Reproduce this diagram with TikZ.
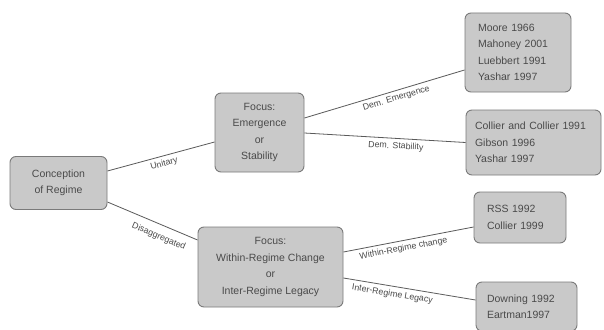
\documentclass[tikz,border=0pt]{standalone}
\usepackage{fontspec}
\setmainfont{Liberation Sans}
\definecolor{boxfill}{HTML}{C9C9C9}
\definecolor{boxline}{HTML}{7A7A7A}
\definecolor{inktext}{HTML}{4A4A4A}
\definecolor{linkline}{HTML}{5A5A5A}
\begin{document}
\begin{tikzpicture}[x=1pt,y=-1pt,
  box/.style={draw=boxline, fill=boxfill, line width=0.9pt, rounded corners=6pt,
    text=inktext, font=\fontsize{10.5}{16.5}\selectfont, inner ysep=0pt},
  focusbox/.style={box, align=center, inner xsep=0pt},
  refbox/.style={box, align=left},
  link/.style={draw=linkline, line width=0.8pt},
  lbl/.style={sloped, below=2.5pt, text=inktext, inner sep=1pt,
    font=\fontsize{8.8}{10}\selectfont}]
\fill[white] (0,0) rectangle (604,329);
\clip (0,0) rectangle (604,329);

% left-hand root
\node[focusbox, minimum width=97pt, minimum height=53pt] (conc) at (58.5,183)
  {Conception\\of Regime};

% the two focus boxes
\node[focusbox, minimum width=89pt, minimum height=79pt] (emer) at (259.5,132.5)
  {Focus:\\Emergence\\or\\Stability};
\node[focusbox, minimum width=145pt, minimum height=80pt] (within) at (270.5,267)
  {Focus:\\Within-Regime Change\\or\\Inter-Regime Legacy};

% reference lists
\node[refbox, minimum width=106pt, minimum height=79pt, inner xsep=13pt,
  text width=80pt] (moore) at (518,52.5)
  {Moore 1966\\Mahoney 2001\\Luebbert 1991\\Yashar 1997};
\node[refbox, minimum width=135pt, minimum height=65pt, inner xsep=9pt,
  text width=117pt] (coll) at (533.5,142.5)
  {Collier and Collier 1991\\Gibson 1996\\Yashar 1997};
\node[refbox, minimum width=92pt, minimum height=51pt, inner xsep=13pt,
  text width=66pt] (rss) at (520,217.5)
  {RSS 1992\\Collier 1999};
\node[refbox, minimum width=101pt, minimum height=49pt, inner xsep=11pt,
  text width=79pt] (down) at (526.5,306.5)
  {Downing 1992\\Eartman1997};

% connectors
\draw[link] ([yshift=12pt]conc.east) -- ([yshift=-9.5pt]emer.west)
  node[lbl, pos=0.51] {Unitary};
\draw[link] ([yshift=-19pt]conc.east) -- ([yshift=27pt]within.west)
  node[lbl, pos=0.62, below=4pt] {Disaggregated};
\draw[link] ([yshift=14.5pt]emer.east) -- ([yshift=-17.5pt]moore.west)
  node[lbl, pos=0.56] {Dem. Emergence};
\draw[link] ([yshift=-0.5pt]emer.east) -- (coll.west)
  node[lbl, pos=0.57] {Dem. Stability};
\draw[link] ([yshift=15pt]within.east) -- ([yshift=-9.5pt]rss.west)
  node[lbl, pos=0.45] {Within-Regime change};
\draw[link] ([yshift=-11pt]within.east) -- ([yshift=6.5pt]down.west)
  node[lbl, pos=0.38] {Inter-Regime Legacy};
\end{tikzpicture}
\end{document}
